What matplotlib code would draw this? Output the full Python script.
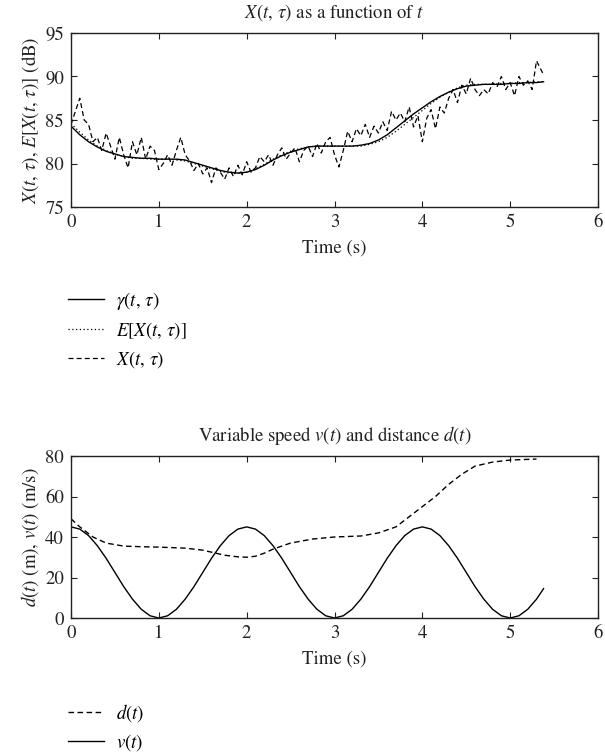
"""Two-panel figure: noisy level X(t, tau) vs its trend, and speed/distance vs time."""
import numpy as np
import matplotlib
matplotlib.use("Agg")
import matplotlib.pyplot as plt
from matplotlib.lines import Line2D

plt.rcParams["font.family"] = ["STIXGeneral", "DejaVu Serif"]
plt.rcParams["mathtext.fontset"] = "stix"
plt.rcParams["font.size"] = 12.5

# ---- top panel data (dB) ----
t_smooth = [0.0, 0.1, 0.2, 0.3, 0.4, 0.5, 0.6, 0.7, 0.8, 0.9, 1.0, 1.1, 1.2, 1.3,
            1.4, 1.5, 1.6, 1.7, 1.8, 1.9, 2.0, 2.1, 2.2, 2.3, 2.4, 2.5, 2.6, 2.7,
            2.8, 2.9, 3.0, 3.1, 3.2, 3.3, 3.4, 3.5, 3.6, 3.7, 3.8, 3.9, 4.0, 4.1,
            4.2, 4.3, 4.4, 4.5, 4.6, 4.7, 4.8, 4.9, 5.0, 5.1, 5.2, 5.3, 5.38]
gamma = [84.3, 83.3, 82.5, 81.9, 81.4, 81.1, 80.8, 80.7, 80.6, 80.6, 80.5, 80.5,
         80.5, 80.4, 80.1, 79.8, 79.5, 79.2, 79.0, 78.9, 79.0, 79.3, 79.8, 80.4,
         80.9, 81.3, 81.6, 81.9, 82.0, 82.0, 82.0, 82.0, 82.0, 82.1, 82.3, 82.7,
         83.3, 84.1, 84.9, 85.7, 86.4, 87.1, 87.7, 88.2, 88.6, 88.9, 89.0, 89.1,
         89.1, 89.1, 89.2, 89.2, 89.3, 89.3, 89.4]
expect = [84.6, 83.6, 82.7, 82.0, 81.5, 81.1, 80.8, 80.6, 80.6, 80.5, 80.5, 80.5,
          80.4, 80.3, 80.0, 79.7, 79.4, 79.1, 78.9, 78.9, 79.0, 79.4, 79.9, 80.5,
          81.0, 81.4, 81.7, 81.9, 82.0, 82.0, 82.0, 82.0, 82.0, 82.0, 82.2, 82.5,
          83.0, 83.7, 84.5, 85.3, 86.1, 86.9, 87.6, 88.2, 88.7, 89.0, 89.1, 89.1,
          89.1, 89.2, 89.2, 89.3, 89.3, 89.4, 89.4]

t_noisy = [0.0, 0.05, 0.1, 0.15, 0.2, 0.25, 0.3, 0.35, 0.4, 0.45, 0.5, 0.55, 0.6,
           0.65, 0.7, 0.75, 0.8, 0.85, 0.9, 0.95, 1.0, 1.05, 1.1, 1.15, 1.2, 1.25,
           1.3, 1.35, 1.4, 1.45, 1.5, 1.55, 1.6, 1.65, 1.7, 1.75, 1.8, 1.85, 1.9,
           1.95, 2.0, 2.05, 2.1, 2.15, 2.2, 2.25, 2.3, 2.35, 2.4, 2.45, 2.5, 2.55,
           2.6, 2.65, 2.7, 2.75, 2.8, 2.85, 2.9, 2.95, 3.0, 3.05, 3.1, 3.15, 3.2,
           3.25, 3.3, 3.35, 3.4, 3.45, 3.5, 3.55, 3.6, 3.65, 3.7, 3.75, 3.8, 3.85,
           3.9, 3.95, 4.0, 4.05, 4.1, 4.15, 4.2, 4.25, 4.3, 4.35, 4.4, 4.45, 4.5,
           4.55, 4.6, 4.65, 4.7, 4.75, 4.8, 4.85, 4.9, 4.95, 5.0, 5.05, 5.1, 5.15,
           5.2, 5.25, 5.3, 5.35, 5.38]
x_noisy = [84.5, 86.0, 87.5, 85.0, 84.5, 82.5, 83.0, 81.5, 83.5, 82.0, 80.5, 83.0,
           81.0, 79.5, 82.5, 81.0, 83.0, 80.5, 82.0, 81.5, 79.3, 80.0, 81.0, 79.8,
           81.5, 83.0, 81.0, 80.3, 79.2, 80.0, 78.8, 79.5, 77.8, 79.5, 79.0, 78.2,
           79.5, 78.5, 79.8, 78.7, 80.2, 79.0, 79.5, 80.8, 80.2, 81.0, 79.8, 81.0,
           81.8, 80.5, 81.2, 81.8, 80.2, 81.5, 82.0, 80.8, 82.3, 81.2, 82.5, 83.0,
           81.0, 79.6, 81.5, 83.7, 82.5, 84.0, 83.2, 84.5, 83.0, 84.3, 83.5, 84.8,
           83.8, 86.0, 85.0, 85.8, 84.8, 86.5, 84.2, 85.5, 82.5, 85.2, 86.2, 84.0,
           86.5, 85.8, 87.5, 88.5, 87.0, 89.0, 88.0, 89.8, 88.5, 87.8, 88.5, 88.0,
           89.3, 88.8, 90.0, 88.5, 89.3, 87.8, 90.0, 89.0, 89.5, 88.5, 91.8, 90.8,
           90.2]

# ---- bottom panel data ----
t_v = [0.0, 0.1, 0.2, 0.3, 0.4, 0.5, 0.6, 0.7, 0.8, 0.9, 1.0, 1.1, 1.2, 1.3, 1.4,
       1.5, 1.6, 1.7, 1.8, 1.9, 2.0, 2.1, 2.2, 2.3, 2.4, 2.5, 2.6, 2.7, 2.8, 2.9,
       3.0, 3.1, 3.2, 3.3, 3.4, 3.5, 3.6, 3.7, 3.8, 3.9, 4.0, 4.1, 4.2, 4.3, 4.4,
       4.5, 4.6, 4.7, 4.8, 4.9, 5.0, 5.1, 5.2, 5.3, 5.38]
speed = [45.0, 43.9, 40.7, 35.7, 29.5, 22.5, 15.5, 9.3, 4.3, 1.1, 0.0, 1.1, 4.3,
         9.3, 15.5, 22.5, 29.5, 35.7, 40.7, 43.9, 45.0, 43.9, 40.7, 35.7, 29.5,
         22.5, 15.5, 9.3, 4.3, 1.1, 0.0, 1.1, 4.3, 9.3, 15.5, 22.5, 29.5, 35.7,
         40.7, 43.9, 45.0, 43.9, 40.7, 35.7, 29.5, 22.5, 15.5, 9.3, 4.3, 1.1, 0.0,
         1.1, 4.3, 9.3, 14.5]
t_d = [0.0, 0.1, 0.25, 0.4, 0.6, 0.8, 1.0, 1.3, 1.5, 1.65, 1.75, 1.9, 2.0, 2.1,
       2.2, 2.3, 2.5, 2.75, 3.0, 3.3, 3.5, 3.7, 3.85, 4.0, 4.15, 4.3, 4.45, 4.6,
       4.8, 5.0, 5.3]
dist = [49.0, 45.0, 40.0, 37.0, 35.5, 35.2, 35.0, 34.5, 33.5, 32.0, 31.0, 30.2,
        30.0, 30.5, 32.0, 34.0, 37.0, 39.0, 40.0, 40.5, 42.0, 45.0, 50.0, 55.0,
        60.0, 66.0, 71.0, 75.0, 77.0, 78.0, 78.5]

W, H = 605, 755
INK = "#222222"
DASH = (0, (4, 2.5))
fig = plt.figure(figsize=(W / 100, H / 100), dpi=100)


def px_axes(left, top, right, bottom):
    return fig.add_axes([left / W, 1 - bottom / H, (right - left) / W, (bottom - top) / H])


def style(ax):
    ax.tick_params(direction="in", top=True, right=True, length=4, width=0.8,
                   colors=INK, labelcolor=INK, labelsize=13.5, pad=5)
    for sp in ax.spines.values():
        sp.set_linewidth(1.0)
        sp.set_color(INK)


XT = r"X(t,\,\tau)"

ax1 = px_axes(71, 33, 598, 207)
ax1.plot(t_smooth, gamma, color="black", lw=1.0)
ax1.plot(t_smooth, expect, color="black", lw=0.9, ls=(0, (1, 2)))
ax1.plot(t_noisy, x_noisy, color="black", lw=0.9, ls=DASH)
ax1.set_xlim(0, 6)
ax1.set_ylim(75, 95)
ax1.set_xticks([0, 1, 2, 3, 4, 5, 6])
ax1.set_yticks([75, 80, 85, 90, 95])
ax1.set_title(rf"${XT}$ as a function of $t$", fontsize=13.5, pad=11, color=INK)
ax1.set_xlabel("Time (s)", fontsize=13.5, labelpad=6, color=INK)
ax1.set_ylabel(rf"${XT},\,E[{XT}]$ (dB)", fontsize=13.5, labelpad=3, color=INK)
style(ax1)

ax2 = px_axes(71, 456, 598, 618)
ax2.plot(t_d, dist, color="black", lw=1.0, ls=DASH)
ax2.plot(t_v, speed, color="black", lw=1.0)
ax2.set_xlim(0, 6)
ax2.set_ylim(0, 80)
ax2.set_xticks([0, 1, 2, 3, 4, 5, 6])
ax2.set_yticks([0, 20, 40, 60, 80])
ax2.set_title(r"Variable speed $v(t)$ and distance $d(t)$", fontsize=13.5, pad=11,
              color=INK)
ax2.set_xlabel("Time (s)", fontsize=13.5, labelpad=6, color=INK)
ax2.set_ylabel(r"$d(t)$ (m), $v(t)$ (m/s)", fontsize=13.5, labelpad=3, color=INK)
style(ax2)

h1 = [Line2D([], [], color="black", lw=1.0),
      Line2D([], [], color="black", lw=0.9, ls=(0, (1, 2))),
      Line2D([], [], color="black", lw=0.9, ls=DASH)]
fig.legend(h1, [r"$\gamma(t,\,\tau)$", rf"$E[{XT}]$", rf"${XT}$"],
           loc="upper left", bbox_to_anchor=(68 / W, 1 - 290 / H), frameon=False,
           borderpad=0, borderaxespad=0, handlelength=1.9, handletextpad=0.65,
           labelspacing=0.42, fontsize=13.5)

h2 = [Line2D([], [], color="black", lw=1.0, ls=DASH),
      Line2D([], [], color="black", lw=1.0)]
fig.legend(h2, [r"$d(t)$", r"$v(t)$"],
           loc="upper left", bbox_to_anchor=(68 / W, 1 - 702 / H), frameon=False,
           borderpad=0, borderaxespad=0, handlelength=1.9, handletextpad=0.65,
           labelspacing=0.42, fontsize=13.5)

fig.savefig("out.png", dpi=100)
